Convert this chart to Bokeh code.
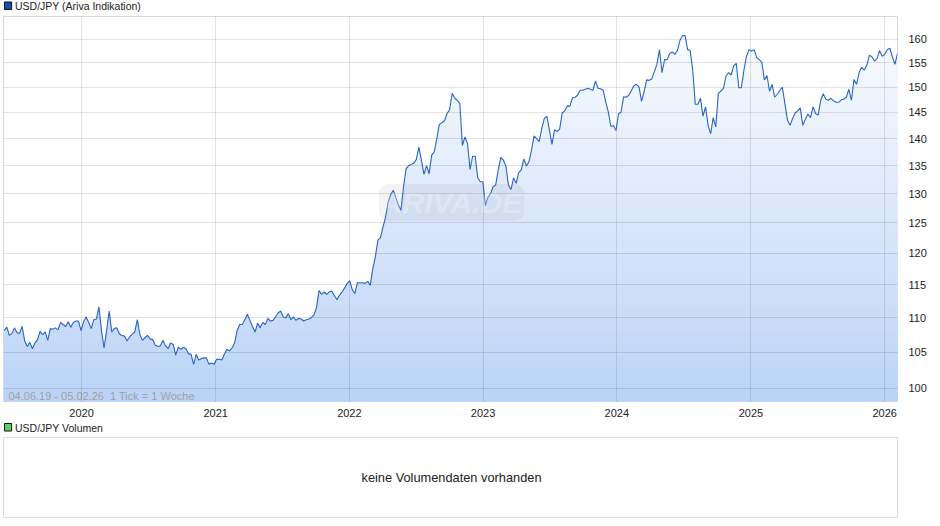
import numpy as np
import pandas as pd
from bokeh.embed import file_html
from bokeh.layouts import column
from bokeh.models import BoxAnnotation, FixedTicker, Label, NumeralTickFormatter, Range1d
from bokeh.plotting import figure
from bokeh.resources import INLINE

start_date = "2019-06-04"
end_date = "2026-02-05"
year_labels = ["2020", "2021", "2022", "2023", "2024", "2025", "2026"]
price_ticks = [100, 105, 110, 115, 120, 125, 130, 135, 140, 145, 150, 155, 160]

usd_jpy_2019_2021 = [
    108.1, 108.6, 107.4, 107.7, 108.5, 107.8, 107.7, 108.7, 106.6, 105.8, 106.4, 105.5, 106.3, 106.8, 108.0, 107.5,
    107.9, 106.7, 108.4, 108.3, 108.5, 108.2, 109.3, 109.0, 108.7, 109.4, 108.6, 109.3, 109.5, 109.5, 108.1, 109.4,
    110.1, 109.3, 108.4, 109.7, 109.8, 111.6, 108.1, 105.6, 108.1, 111.0, 107.9, 108.4, 108.5, 107.6, 107.4, 107.3,
    106.6, 107.2, 107.6, 107.9, 109.7, 107.5, 106.7, 107.1, 107.4, 106.9, 106.8, 106.0, 105.8, 105.9, 106.7, 105.9,
    105.5, 106.3, 106.1, 104.6, 105.7, 105.4, 105.7, 105.5, 104.8, 104.7, 103.3, 104.7, 103.9, 104.1, 104.2, 104.2,
    103.3, 103.5, 103.3, 104.0, 104.0, 103.9, 104.7, 105.4, 105.2, 105.6, 106.3, 108.1, 109.0, 109.0, 109.7, 110.5,
    109.6, 108.7, 107.9, 109.2, 108.5, 109.3, 109.0, 109.9, 109.5, 109.6, 110.1, 110.7, 111.0, 110.1, 110.0, 110.6,
    109.7, 110.1, 109.6, 109.9,
]
usd_jpy_2021_2023 = [
    109.8, 109.5, 109.7, 109.8, 110.0, 110.4, 111.5,
    114.1, 113.5, 113.9, 113.5, 113.9, 114.0, 113.3, 112.7, 113.4, 113.9, 114.5, 115.2, 115.6, 114.2, 113.6, 115.3,
    115.3, 115.3, 115.2, 115.5, 114.9, 117.5, 119.4, 122.1, 122.5, 124.3, 126.0, 128.5, 129.8, 130.6, 129.3, 128.0,
    127.1, 131.2, 134.4, 135.0, 135.2, 135.4, 136.1, 138.4, 136.0, 133.4, 135.0, 133.5, 136.9, 137.5, 140.0, 142.7,
    143.0, 143.4, 144.8, 145.5, 148.8, 147.8, 147.4, 146.8, 138.7, 140.3, 139.1, 134.3, 136.7, 136.7, 132.8, 132.1,
    132.1, 127.9, 129.4, 130.0, 131.2, 131.5, 134.2, 136.5, 136.0, 134.9, 131.5, 130.7, 132.8, 131.8, 133.7, 134.2,
    136.2, 134.9, 135.7, 137.8, 140.5, 140.0, 139.4, 141.9, 143.8, 144.3, 141.6, 138.9, 141.7, 141.3, 141.8, 144.9,
    145.3, 146.3, 146.2, 147.9, 148.0, 148.4, 149.4, 149.4, 149.6, 149.8, 149.6, 149.4, 151.3, 149.8,
]
usd_jpy_2023_2026 = [
    149.7, 149.4, 147.1, 145.1, 142.3, 142.5, 141.5, 144.7, 145.1, 148.1, 148.0, 148.4, 149.3, 150.3, 150.6, 150.1,
    147.2, 149.1, 151.5, 151.4, 151.7, 153.2, 154.7, 157.8, 153.0, 155.7, 155.7, 157.0, 157.3, 156.8, 157.6, 159.8,
    160.8, 160.8, 157.8, 157.6, 153.5, 146.6, 146.6, 147.8, 144.3, 146.1, 142.5, 140.9, 144.0, 142.2, 148.8, 149.2,
    149.8, 152.3, 153.0, 152.5, 154.4, 154.9, 149.9, 149.9, 153.5, 156.4, 157.8, 157.5, 157.8, 156.1, 155.7, 155.1,
    151.5, 152.4, 149.2, 150.6, 148.0, 148.6, 149.3, 150.0, 146.8, 143.6, 142.5, 143.8, 144.9, 145.3, 145.9, 142.5,
    143.7, 144.7, 144.0, 146.1, 144.8, 144.5, 147.4, 148.7, 147.6, 147.4, 147.8, 147.3, 147.0, 147.0, 147.5, 147.6,
    148.0, 149.6, 147.4, 151.6, 150.6, 153.0, 154.1, 153.5, 154.5, 156.6, 156.3, 155.4, 155.9, 157.6, 156.4, 156.8,
    157.8, 158.1, 156.3, 154.7, 157.0,
]

FONT = "Liberation Sans"
GRID = "#000000"
values = np.array(usd_jpy_2019_2021 + usd_jpy_2021_2023 + usd_jpy_2023_2026)


def ms(d):
    return pd.Timestamp(d).value / 1e6


def header(text, swatch, h, drop):
    f = figure(width=932, height=h, output_backend="svg", toolbar_location=None,
               x_range=Range1d(0, 932), y_range=Range1d(0, h), x_axis_location=None, y_axis_location=None,
               min_border_left=0, min_border_right=0, min_border_top=0, min_border_bottom=0)
    f.grid.visible = False
    f.outline_line_color = None
    f.add_layout(BoxAnnotation(left=1, right=8.5, bottom=h - drop - 3.5, top=h - drop + 4, fill_color=swatch, fill_alpha=1,
                               line_color="#111111", line_alpha=1, line_width=1, level="overlay"))
    f.add_layout(Label(x=12, y=h - drop, text=text, text_font=FONT, text_font_size="10.5px",
                       text_color="#222222", text_baseline="middle"))
    return f


dates = np.linspace(ms(start_date), ms(end_date), len(values))
year_ticks = [int(ms(y + "-01-01")) for y in year_labels]
y_lo, y_hi = 98.26, 165.0

p = figure(
    width=932, height=405, output_backend="svg", toolbar_location=None,
    y_axis_type="log", y_axis_location="right",
    x_range=Range1d(ms(start_date) - 2 * 86400000, ms(end_date)),
    y_range=Range1d(y_lo, y_hi),
    min_border_left=3, min_border_right=35, min_border_top=1, min_border_bottom=19,
)
p.background_fill_color = "white"
p.outline_line_color = "#d9d9d9"

# Vertical gradient: paint from the top down, each lower band over the previous one.
edges = np.geomspace(y_hi, y_lo, 101)[:-1]
top_rgb = np.array([255, 255, 255])
bot_rgb = np.array([187, 211, 247])
for i, hi in enumerate(edges):
    t = np.clip(1 - np.log(hi / y_lo) / np.log(168 / y_lo), 0, 1)
    c = (top_rgb + (bot_rgb - top_rgb) * t).astype(int)
    p.varea(dates, np.full(len(values), y_lo), np.minimum(values, hi),
            fill_color="#%02x%02x%02x" % tuple(c), fill_alpha=1)

p.line(dates, values, line_color="#2a66c6", line_width=1.1)

for ax in (p.xaxis[0], p.yaxis[0]):
    ax.axis_line_color = None
    ax.major_tick_line_color = None
    ax.minor_tick_line_color = None
    ax.major_label_text_font = FONT
    ax.major_label_text_font_size = "11px"
    ax.major_label_text_color = "#222222"
p.xaxis[0].ticker = FixedTicker(ticks=year_ticks)
p.xaxis[0].major_label_overrides = dict(zip(year_ticks, year_labels))
p.xaxis[0].major_label_standoff = 1
p.yaxis[0].ticker = FixedTicker(ticks=price_ticks)
p.yaxis[0].formatter = NumeralTickFormatter(format="0")
p.yaxis[0].major_label_standoff = 5
p.xgrid[0].ticker = FixedTicker(ticks=year_ticks)
p.ygrid[0].ticker = FixedTicker(ticks=price_ticks)
for g in (p.xgrid[0], p.ygrid[0]):
    g.grid_line_color = GRID
    g.grid_line_alpha = 0.11
    g.level = "overlay"

p.add_layout(Label(x=448, y=199, x_units="screen", y_units="screen", text="ARIVA.DE",
                   text_font=FONT, text_font_style="bold italic", text_font_size="30px",
                   text_color="#ffffff", text_alpha=0.25, text_align="center", text_baseline="middle",
                   background_fill_color="#777777", background_fill_alpha=0.09, border_radius=9, padding=2))
p.add_layout(Label(x=5, y=6, x_units="screen", y_units="screen",
                   text="04.06.19 - 05.02.26\u00a0\u00a01 Tick = 1 Woche",
                   text_font=FONT, text_font_size="11px", text_color="#a0a0a0", text_baseline="middle"))

v = figure(
    width=932, height=84, output_backend="svg", toolbar_location=None,
    x_range=Range1d(0, 1), y_range=Range1d(0, 1), x_axis_location=None, y_axis_location=None,
    min_border_left=3, min_border_right=34, min_border_top=1, min_border_bottom=3,
)
v.grid.visible = False
v.outline_line_color = "#d9d9d9"
v.add_layout(Label(x=448, y=40, x_units="screen", y_units="screen", text="keine Volumendaten vorhanden",
                   text_font=FONT, text_font_size="12.8px", text_color="#222222",
                   text_align="center", text_baseline="middle"))

root = column(header("USD/JPY (Ariva Indikation)", "#1a50ad", 15, 5.5), p,
              header("USD/JPY Volumen", "#5fd05f", 16, 7), v,
              spacing=0, styles={"position": "absolute", "left": "0px", "top": "0px"})
open("out.html", "w").write(file_html(root, INLINE))
